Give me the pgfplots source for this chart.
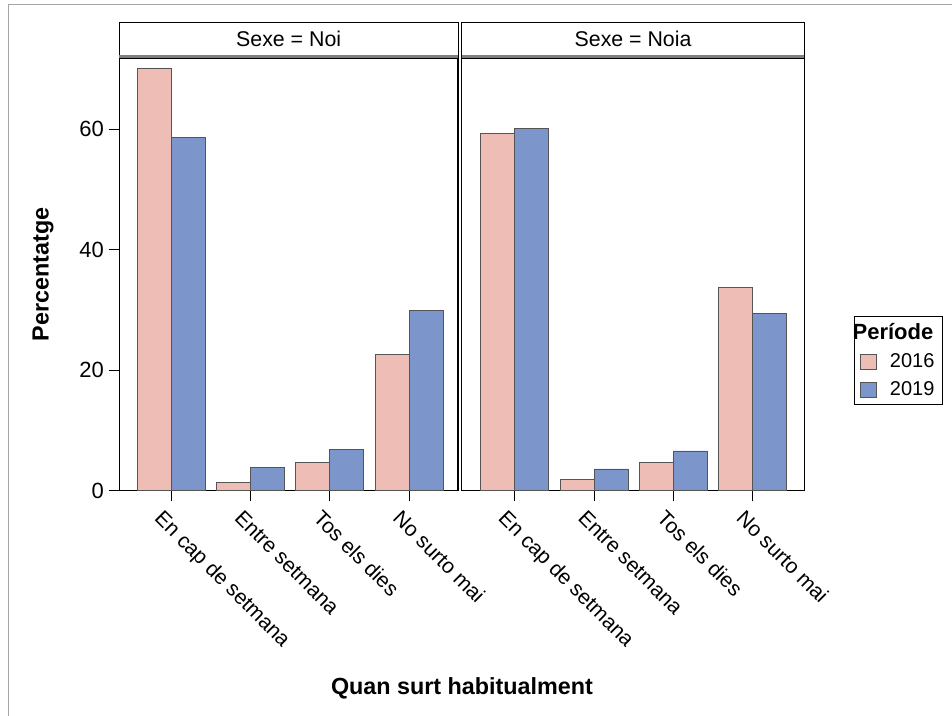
\documentclass[border=0pt]{standalone}
\usepackage{fontspec}
\setmainfont{Liberation Sans}
\usepackage{pgfplots}
\pgfplotsset{compat=1.18}
\definecolor{c16}{HTML}{EEBDB6}
\definecolor{c19}{HTML}{7C96CB}
\definecolor{edge}{HTML}{555555}
\pgfplotsset{
  panel/.style={
    scale only axis,
    anchor=south west,
    height=324.5pt,
    ymin=0, ymax=71.85,
    ybar=0pt, bar width=25.5pt,
    clip=false,
    axis line style={black, line width=0.8pt},
    xtick={0,1,2,3},
    xticklabels={En cap de setmana,Entre setmana,Tos els dies,No surto mai},
    x tick label style={rotate=-45, anchor=north west, font=\fontsize{15.8}{19}\selectfont, xshift=-3pt, yshift=-4pt},
    y tick label style={font=\fontsize{16.5}{19}\selectfont},
    /pgf/number format/assume math mode=true,
    tick style={black, line width=0.6pt},
    major tick length=8pt,
    tick align=outside,
    xtick pos=bottom,
    ytick pos=left,
    legend image code/.code={\draw[#1] (0pt,-6pt) rectangle (12pt,5pt); \path (20pt,0pt);},
  },
  b16/.style={fill=c16, draw=edge, line width=0.6pt},
  b19/.style={fill=c19, draw=edge, line width=0.6pt},
}
\newcommand{\header}[1]{%
  \draw[black, line width=0.6pt, fill=white] (rel axis cs:0,1) rectangle ([yshift=26.8pt]rel axis cs:1,1);
  \draw[gray, line width=2.2pt] ([yshift=1.1pt]rel axis cs:0,1) -- ([yshift=1.1pt]rel axis cs:1,1);
  \node[font=\fontsize{16}{19}\selectfont] at ([yshift=14pt]rel axis cs:0.5,1) {#1};
}
\begin{document}
\begin{tikzpicture}
\useasboundingbox (0,0) rectangle (714pt,-537pt);
\draw[gray!70, line width=0.6pt] (6pt,-537pt) -- (6pt,-3pt) -- (714pt,-3pt);
\begin{axis}[panel, at={(89.5pt,-368pt)}, width=254pt, xmin=-0.651, xmax=3.615,
  ytick={0,20,40,60},
  every axis y label/.style={at={(axis description cs:-0.225,0.5)}, rotate=90, anchor=center, font=\bfseries\fontsize{17.5}{20}\selectfont},
  ylabel={Percentatge}]
\addplot[b16] coordinates {(0,70.2) (1,1.4) (2,4.7) (3,22.6)};
\addplot[b19] coordinates {(0,58.7) (1,3.9) (2,6.8) (3,30.0)};
\header{Sexe = Noi}
\end{axis}
\begin{axis}[panel, at={(346.3pt,-368pt)}, width=257pt, xmin=-0.668, xmax=3.652,
  ytick=\empty,
  legend style={at={(axis description cs:1.145,0.301)}, anchor=west, draw=black, line width=0.6pt,
    font=\fontsize{15}{18}\selectfont, row sep=5pt, inner xsep=4pt, inner ysep=3pt, cells={anchor=west}},
  legend cell align=left]
\addlegendimage{empty legend}
\addlegendentry{\hspace{-28pt}{\bfseries\fontsize{16.5}{19}\selectfont Període}}
\addplot[b16] coordinates {(0,59.3) (1,1.8) (2,4.7) (3,33.8)};
\addlegendentry{2016}
\addplot[b19] coordinates {(0,60.1) (1,3.6) (2,6.6) (3,29.5)};
\addlegendentry{2019}
\header{Sexe = Noia}
\end{axis}
\node[font=\bfseries\fontsize{17.5}{20}\selectfont] at (346.5pt,-516.5pt) {Quan surt habitualment};
\end{tikzpicture}
\end{document}
